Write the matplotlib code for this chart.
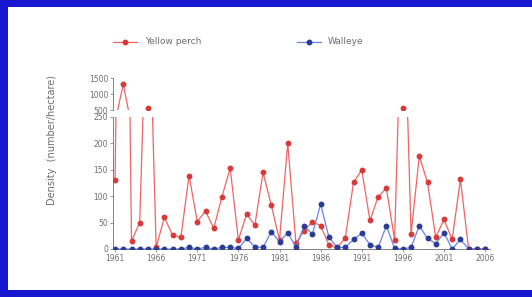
import matplotlib
matplotlib.use('Agg')
import matplotlib.pyplot as plt
from matplotlib.patches import Rectangle

# yearly densities (number/hectare)
years = list(range(1961, 2007))
yellow_perch = [130, 1300, 15, 50, 560, 3, 60, 26, 22, 139,
                52, 72, 39, 99, 153, 17, 66, 45, 145, 83,
                17, 200, 11, 35, 52, 44, 8, 2, 21, 126,
                150, 54, 99, 115, 17, 570, 28, 176, 126, 22,
                56, 18, 132, 0, 0, 0]
walleye = [0, 0, 0, 0, 0, 0, 0, 0, 0, 3,
           0, 3, 0, 3, 3, 1, 20, 4, 3, 33,
           14, 31, 3, 44, 28, 85, 23, 3, 3, 18,
           30, 8, 3, 44, 1, 0, 3, 44, 20, 10,
           31, 0, 18, 0, 0, 0]
xticks = list(range(1961, 2007, 5))
upper_ticks = [500, 1000, 1500]
lower_ticks = [0, 50, 100, 150, 200, 250]

W, H = 532, 297
grey = '#6e6e6e'
red_line, red_mark = '#f06464', '#d83a3a'
blue_line, blue_mark = '#6a84e6', '#2a3c96'

fig = plt.figure(figsize=(W / 100, H / 100), dpi=100, facecolor='#1717cf')
fig.patches.append(Rectangle((8 / W, 7 / H), 1 - 8 / W, 1 - 14 / H,
                             transform=fig.transFigure, facecolor='white',
                             edgecolor='none', zorder=-5))


def px_box(left, top, right, bottom):
    return [left / W, 1 - bottom / H, (right - left) / W, (bottom - top) / H]


ax_lo = fig.add_axes(px_box(113, 117, 490, 249))
ax_hi = fig.add_axes(px_box(113, 78, 490, 110), sharex=ax_lo)

for ax in (ax_lo, ax_hi):
    ax.set_zorder(2)
    ax.set_facecolor('none')
    ax.plot(years, yellow_perch, color=red_line, lw=0.9, marker='o', ms=3.2,
            mfc=red_mark, mec=red_mark, zorder=3)
    ax.plot(years, walleye, color=blue_line, lw=0.9, marker='o', ms=3.2,
            mfc=blue_mark, mec=blue_mark, zorder=4)
    for s in ('top', 'right'):
        ax.spines[s].set_visible(False)
    ax.spines['left'].set_color(grey)
    ax.spines['left'].set_linewidth(0.6)
    ax.tick_params(colors=grey, labelsize=5.5, width=0.5, length=2, pad=1.5)

ax_lo.set_xlim(1960.75, 2006.6)
ax_lo.set_ylim(0, 250)
ax_lo.set_yticks(lower_ticks)
ax_lo.set_xticks(xticks)
ax_lo.spines['bottom'].set_color(grey)
ax_lo.spines['bottom'].set_linewidth(0.6)

ax_hi.set_ylim(500, 1500)
ax_hi.set_yticks(upper_ticks)
ax_hi.spines['bottom'].set_visible(False)
ax_hi.tick_params(axis='x', bottom=False, labelbottom=False)

fig.text(52 / W, 1 - 140 / H, 'Density  (number/hectare)', rotation=90,
         ha='center', va='center', fontsize=7, color=grey, zorder=3)

# legend
leg_y = 1 - 42 / H
for x0, col, mc in ((113, red_line, red_mark), (297, blue_line, blue_mark)):
    fig.lines.append(plt.Line2D([x0 / W, (x0 + 12) / W, (x0 + 24) / W],
                                [leg_y] * 3, color=col, lw=0.9, marker='o',
                                ms=3.2, mfc=mc, mec=mc, markevery=[1],
                                transform=fig.transFigure, zorder=3))
fig.text(145 / W, leg_y, 'Yellow perch', fontsize=6.5, color=grey, va='center', zorder=3)
fig.text(328 / W, leg_y, 'Walleye', fontsize=6.5, color=grey, va='center', zorder=3)

fig.savefig('out.png', dpi=100, facecolor=fig.get_facecolor())
